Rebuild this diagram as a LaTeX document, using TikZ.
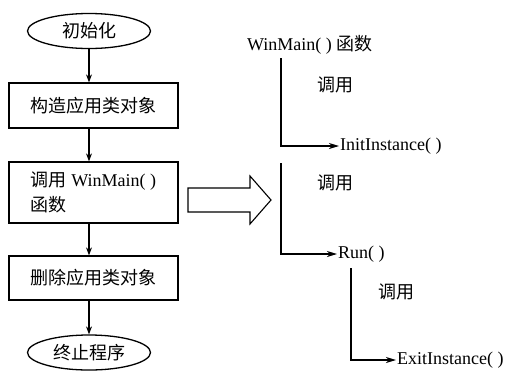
\documentclass[tikz,border=0pt]{standalone}
\usepackage{fontspec}
\setmainfont{Liberation Serif}
\newfontfamily\cjk{Noto Sans CJK SC}
\usetikzlibrary{shapes.geometric,arrows.meta}
\begin{document}
\begin{tikzpicture}[x=1pt,y=-1pt,
  every node/.style={font=\fontsize{18}{25}\selectfont},
  term/.style={ellipse,draw,line width=1.3pt,minimum width=123pt,minimum height=35pt,inner sep=0pt},
  stepbox/.style={draw,line width=1.3pt,minimum width=169pt,inner sep=0pt},
  flow/.style={line width=1.1pt,-{Stealth[length=8pt,width=6pt]}},
  call/.style={line width=1.1pt,-{Stealth[length=10pt,width=6pt,inset=3pt]}},
  lbl/.style={inner sep=1pt}]
\useasboundingbox (0,0) rectangle (508,373);
% left column
\node[term] (init) at (89,31) {\cjk 初始化};
\node[stepbox,minimum height=45pt] (b1) at (93.5,105.5) {\cjk 构造应用类对象};
\node[stepbox,minimum height=61pt,align=left] (b2) at (93.5,192.5)
  {{\cjk 调用} WinMain( )\\{\cjk 函数}};
\node[stepbox,minimum height=44pt] (b3) at (93.5,278) {\cjk 删除应用类对象};
\node[term] (fin) at (89,352.5) {\cjk 终止程序};
\draw[flow] (init.south) -- (init.south |- b1.north);
\draw[flow] (init.south |- b1.south) -- (init.south |- b2.north);
\draw[flow] (init.south |- b2.south) -- (init.south |- b3.north);
\draw[flow] (init.south |- b3.south) -- (fin.north);
% hollow arrow
\draw[line width=1.1pt,line join=miter] (188,188) -- (250,188) -- (250,176) -- (271,200)
  -- (250,224) -- (250,212) -- (188,212) -- cycle;
% right side
\node[lbl,anchor=west] (wm) at (246,45) {WinMain( ) {\cjk 函数}};
\node[lbl,anchor=west] (ii) at (339,146) {InitInstance( )};
\node[lbl,anchor=west] (run) at (337,254) {Run( )};
\node[lbl,anchor=west] (ei) at (396,360) {ExitInstance( )};
\node[lbl] (c1) at (335,85) {\cjk 调用};
\node[lbl] (c2) at (335,183) {\cjk 调用};
\node[lbl] (c3) at (396,292) {\cjk 调用};
\coordinate (a1) at (281,58);
\coordinate (a2) at (281,163);
\coordinate (a3) at (351,268);
\draw[call] (a1) |- (ii.west);
\draw[call] (a2) |- (run.west);
\draw[call] (a3) |- (ei.west);
\end{tikzpicture}
\end{document}
